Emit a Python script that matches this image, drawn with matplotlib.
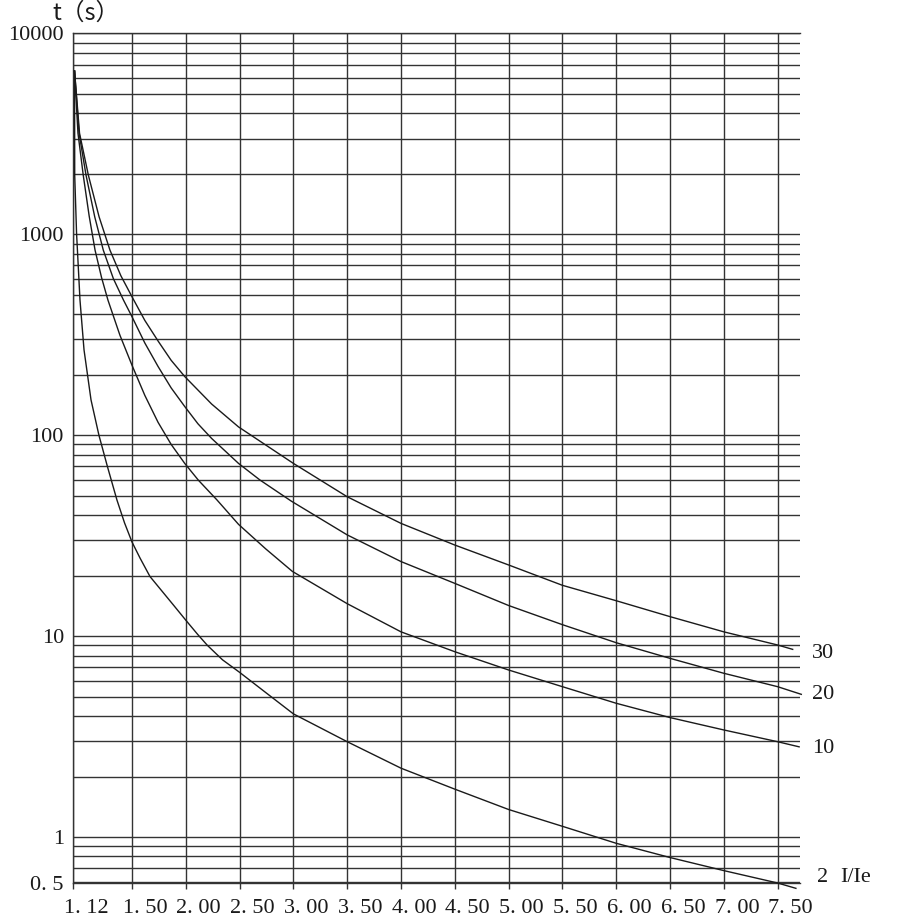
"""Inverse-time characteristic curves t(s) vs I/Ie, log time axis."""

import numpy as np
import matplotlib
matplotlib.use("Agg")
import matplotlib.pyplot as plt
from matplotlib.ticker import LogLocator, NullFormatter
from matplotlib.transforms import ScaledTranslation

# ---- data ------------------------------------------------------------------
X_TICKS = [1.12, 1.50, 2.00, 2.50, 3.00, 3.50, 4.00, 4.50, 5.00, 5.50, 6.00, 6.50, 7.00, 7.50]
X_TICK_LABELS = ["1. 12", "1. 50", "2. 00", "2. 50", "3. 00", "3. 50", "4. 00",
                 "4. 50", "5. 00", "5. 50", "6. 00", "6. 50", "7. 00", "7. 50"]
Y_BOTTOM = 0.592
Y_TICKS = [Y_BOTTOM, 1, 10, 100, 1000, 10000]
Y_TICK_LABELS = ["0. 5", "1", "10", "100", "1000", "10000"]

c2_x = [1.13, 1.131, 1.143, 1.165, 1.191, 1.236, 1.287, 1.342, 1.403, 1.452, 1.50,
        1.574, 1.667, 1.884, 2.00, 2.11, 2.20, 2.341, 2.50, 2.75, 3.00, 3.50, 4.00,
        4.50, 5.00, 5.50, 6.00, 6.50, 7.00, 7.50, 7.67]
c2_t = [6500, 1970, 1010, 471, 266, 150, 100, 69.7, 47.6, 36.6, 29.4,
        24.5, 19.8, 14.3, 12.0, 10.2, 9.0, 7.62, 6.6, 5.2, 4.1, 2.98, 2.20,
        1.73, 1.37, 1.13, 0.93, 0.79, 0.68, 0.59, 0.555]

c10_x = [1.13, 1.152, 1.186, 1.224, 1.262, 1.304, 1.345, 1.422, 1.50, 1.619, 1.742,
         1.864, 1.99, 2.116, 2.29, 2.49, 2.742, 2.99, 3.50, 4.00, 4.50, 5.00, 5.50,
         6.00, 6.50, 7.00, 7.50, 7.70]
c10_t = [6500, 3190, 1970, 1236, 835, 609, 471, 315, 223, 158, 116,
         90, 72.4, 59.8, 47.6, 36.0, 27.2, 21.0, 14.5, 10.5, 8.36, 6.78, 5.6,
         4.63, 3.93, 3.41, 2.98, 2.81]

c20_x = [1.13, 1.159, 1.204, 1.260, 1.315, 1.380, 1.445, 1.50, 1.619, 1.742, 1.864,
         1.99, 2.113, 2.24, 2.49, 2.69, 2.98, 3.50, 4.00, 4.50, 5.00, 5.50, 6.00,
         6.50, 7.00, 7.50, 7.72]
c20_t = [6500, 3190, 1970, 1222, 835, 602, 471, 389, 288, 220, 172,
         139, 114, 96.4, 72.4, 59.8, 47.0, 31.9, 23.5, 18.3, 14.2, 11.4, 9.27,
         7.75, 6.53, 5.60, 5.13]

c30_x = [1.13, 1.162, 1.219, 1.288, 1.358, 1.428, 1.50, 1.619, 1.745, 1.864, 1.99,
         2.24, 2.49, 3.00, 3.50, 4.00, 4.50, 5.00, 5.50, 6.00, 6.50, 7.00, 7.50, 7.64]
c30_t = [6500, 3190, 1970, 1223, 835, 623, 489, 373, 293, 236, 196,
         143, 110, 72.4, 49.4, 36.4, 28.4, 22.6, 17.9, 15.0, 12.5, 10.5, 9.03, 8.59]

CURVES = [("2", c2_x, c2_t), ("10", c10_x, c10_t), ("20", c20_x, c20_t), ("30", c30_x, c30_t)]
LABEL_OFFSET = {"2": (3.5, 8), "10": (0, -1), "20": (0, 0), "30": (0, -3)}  # points

# ---- x axis: 1.12..1.50 drawn wider than the linear part --------------------
K = 1.443


def _fwd(x):
    x = np.asarray(x, dtype=float)
    return np.where(x < 1.5, 1.5 - (1.5 - x) * K, x)


def _inv(u):
    u = np.asarray(u, dtype=float)
    return np.where(u < 1.5, 1.5 - (1.5 - u) / K, u)


SERIF = "Liberation Serif"
GRID = "#333333"
INK = "#1a1a1a"

fig = plt.figure(figsize=(9, 9.21), dpi=100)
ax = fig.add_axes([73 / 900, 1 - 882.7 / 921, 727 / 900, 849.2 / 921])

ax.set_xscale("function", functions=(_fwd, _inv))
ax.set_yscale("log")
ax.set_xlim(1.12, 7.708)
ax.set_ylim(Y_BOTTOM, 10000)

for name, xs, ts in CURVES:
    ax.plot(xs, ts, color=INK, lw=1.0, clip_on=False, zorder=3)
    ax.annotate(name, xy=(1.0165, ts[-1]), xycoords=("axes fraction", "data"),
                xytext=LABEL_OFFSET[name], textcoords="offset points",
                ha="left", va="center", fontsize=16, family=SERIF, color=INK)

ax.set_xticks(X_TICKS)
ax.set_xticklabels(X_TICK_LABELS, family=SERIF, fontsize=16)
ax.set_yticks(Y_TICKS)
ax.set_yticklabels(Y_TICK_LABELS, family=SERIF, fontsize=16)
ax.yaxis.set_minor_locator(LogLocator(base=10, subs=np.arange(2, 10)))
ax.yaxis.set_minor_formatter(NullFormatter())
ax.xaxis.set_minor_locator(plt.NullLocator())

ax.tick_params(axis="x", direction="out", length=4.5, width=1.0, color=GRID,
               pad=7, labelcolor=INK)
ax.tick_params(axis="y", which="both", length=0, pad=6.5, labelcolor=INK)
ax.grid(True, which="both", axis="both", color=GRID, lw=1.0)

for lbl in ax.get_xticklabels():
    lbl.set_transform(lbl.get_transform() + ScaledTranslation(13 / 100, 0, fig.dpi_scale_trans))

for side in ("left", "bottom", "top"):
    ax.spines[side].set_color(GRID)
    ax.spines[side].set_linewidth(1.0)
ax.spines["right"].set_visible(False)

ax.text(1.055, 0.0067, "I/Ie", transform=ax.transAxes, ha="left", va="center",
        fontsize=16, family=SERIF, color=INK)
fig.text(52 / 900, 1 - 13 / 921, "t（s）", ha="left", va="center", fontsize=17,
         family=["Noto Sans CJK SC", "DejaVu Sans"], color=INK)

fig.savefig("out.png", dpi=100)
